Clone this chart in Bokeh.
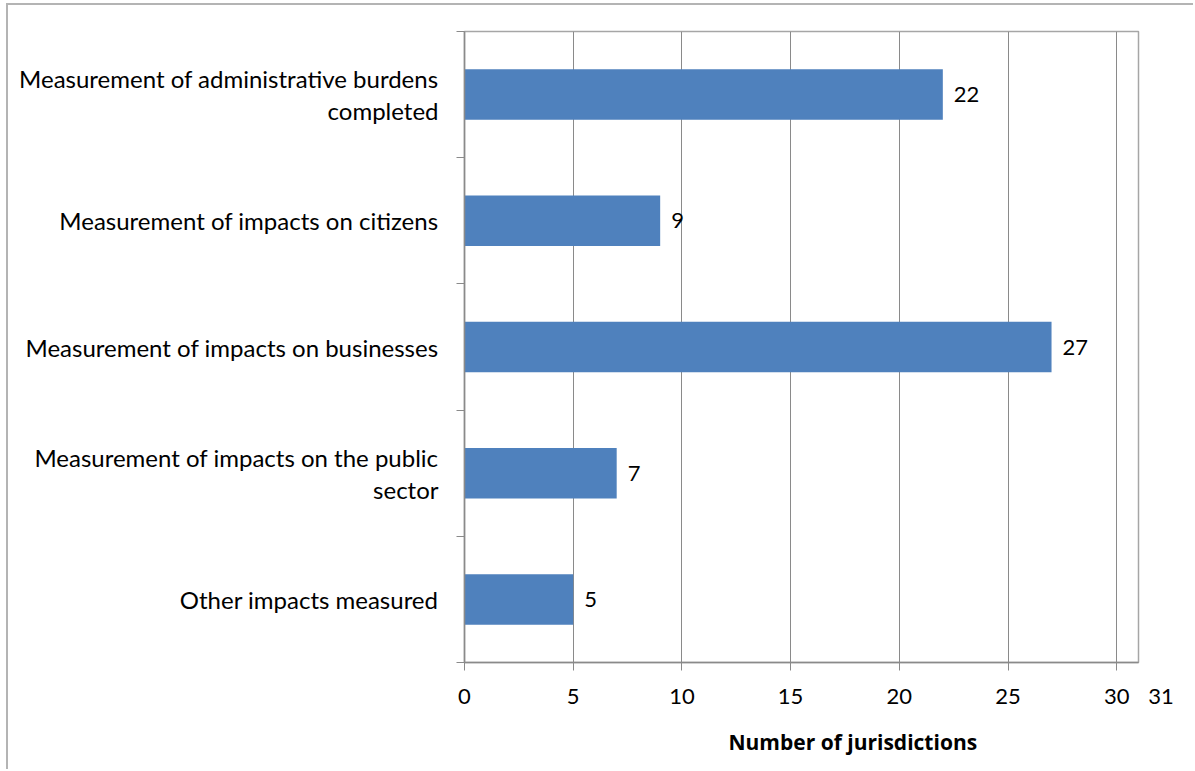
from bokeh.plotting import figure
from bokeh.models import (Range1d, FixedTicker, LabelSet, ColumnDataSource, Title)
from bokeh.core.properties import value
from bokeh.embed import file_html
from bokeh.resources import INLINE

# ---- data ----
categories = [
    "Measurement of administrative burdens\ncompleted",
    "Measurement of impacts on citizens",
    "Measurement of impacts on businesses",
    "Measurement of impacts on the public\nsector",
    "Other impacts measured",
]
values = [22, 9, 27, 7, 5]
x_ticks = [0, 5, 10, 15, 20, 25, 30]
x_max = 31
x_label = "Number of jurisdictions"

FONT = "Lato"
BAR = "#4F81BD"
GRID = "#8a8a8a"

n = len(categories)
centers = [n - i - 0.5 for i in range(n)]
bounds = list(range(n + 1))

src = ColumnDataSource(dict(
    y=centers, v=values, txt=[str(v) for v in values]))

p = figure(width=1187, height=766,
           x_range=Range1d(0, x_max), y_range=Range1d(0, n),
           output_backend="svg", toolbar_location=None,
           min_border_left=456, min_border_right=57,
           min_border_top=26, min_border_bottom=109,
           margin=(3, 0, 0, 6),
           styles={"border-top": "2px solid #b4b4b4",
                   "border-left": "2px solid #b4b4b4"})

p.hbar(y="y", right="v", left=0, height=0.4, source=src,
       fill_color=BAR, line_color=None)

p.add_layout(LabelSet(x="v", y="y", text="txt", source=src,
                      x_offset=11, text_baseline="middle",
                      text_font=value(FONT), text_font_size="22px",
                      text_color="black"))

# x axis: tick marks at the major values, the axis maximum labelled
# slightly to the right of the frame edge (as in the original chart)
xa = p.xaxis[0]
xa.ticker = FixedTicker(ticks=x_ticks + [x_max], minor_ticks=x_ticks)
xa.major_label_overrides = {x_max: "\u00a0" * 8 + str(x_max)}
xa.axis_line_color = GRID
xa.axis_line_width = 1.5
xa.major_tick_out = 0
xa.major_tick_in = 0
xa.minor_tick_out = 8
xa.minor_tick_in = 0
xa.minor_tick_line_color = GRID
xa.major_label_text_font = FONT
xa.major_label_text_font_size = "22px"
xa.major_label_text_color = "black"
xa.major_label_standoff = 11

# y axis
ya = p.yaxis[0]
ya.ticker = FixedTicker(ticks=centers, minor_ticks=bounds)
ya.major_label_overrides = {c: t for c, t in zip(centers, categories)}
ya.axis_line_color = GRID
ya.axis_line_width = 1.5
ya.major_tick_out = 0
ya.major_tick_in = 0
ya.minor_tick_out = 8
ya.minor_tick_in = 0
ya.minor_tick_line_color = GRID
ya.major_label_text_font = FONT
ya.major_label_text_font_size = "24px"
ya.major_label_text_color = "black"
ya.major_label_text_line_height = 1.1
ya.major_label_standoff = 18

p.xgrid.ticker = FixedTicker(ticks=x_ticks)
p.xgrid.grid_line_color = GRID
p.ygrid.grid_line_color = None
p.outline_line_color = "#a6a6a6"
p.outline_line_width = 1.5

p.add_layout(Title(text=x_label, align="left", offset=264, standoff=29,
                   text_font="Open Sans", text_font_size="21px",
                   text_font_style="bold", text_color="black"), "below")

open("out.html", "w").write(file_html(p, INLINE))
